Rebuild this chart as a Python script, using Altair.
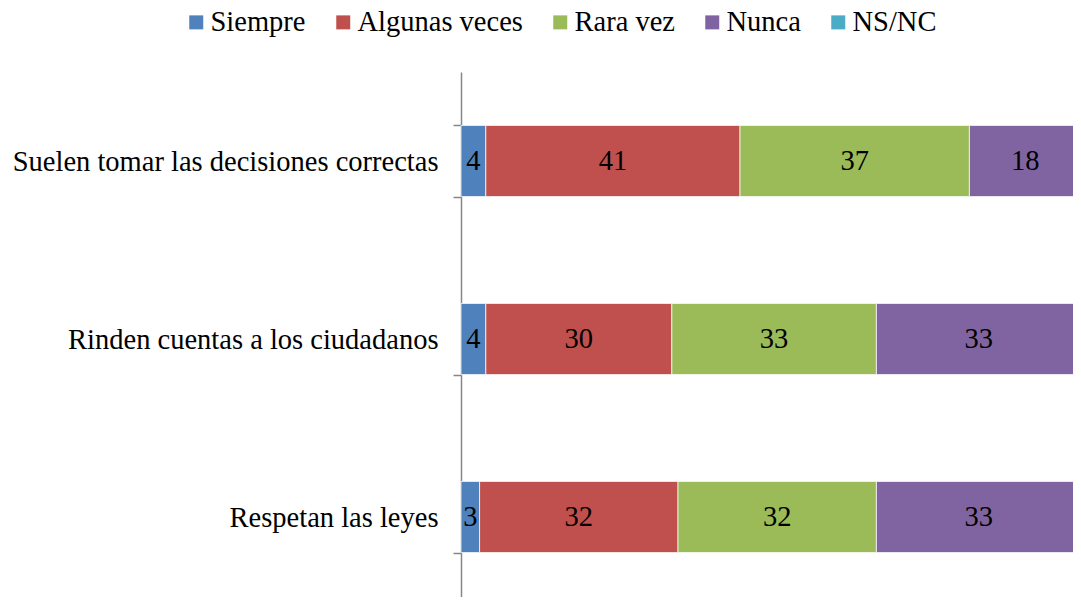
import altair as alt
import pandas as pd

items = ["Suelen tomar las decisiones correctas", "Rinden cuentas a los ciudadanos", "Respetan las leyes"]
answers = ["Siempre", "Algunas veces", "Rara vez", "Nunca", "NS/NC"]
colors = ["#4F81BD", "#C0504D", "#9BBB59", "#8064A2", "#4BACC6"]

siempre = [4, 4, 3]
algunas = [41, 30, 32]
rara = [37, 33, 32]
nunca = [18, 33, 33]
nsnc = [0, 0, 0]

series = [siempre, algunas, rara, nunca, nsnc]
rows = []
for ai, (ans, vals) in enumerate(zip(answers, series)):
    for item, v in zip(items, vals):
        rows.append({"item": item, "answer": ans, "ord": ai, "value": v})
df = pd.DataFrame(rows)

FONT = "Liberation Serif"
FS = 28.5

base = alt.Chart(df).transform_stack(
    stack="value", as_=["x0", "x1"], groupby=["item"], sort=[alt.SortField("ord", order="ascending")]
).transform_calculate(mid="(datum.x0 + datum.x1) / 2")

y_scale = alt.Scale(paddingInner=0.6, paddingOuter=0.3, range=[0, 534])
y_enc = alt.Y("item:N", sort=items, title=None, scale=y_scale,
              axis=alt.Axis(tickBand="extent", tickSize=8, labelPadding=15,
                            labelFont=FONT, labelFontSize=FS, labelColor="#000000",
                            labelFontWeight="normal", labelLimit=600,
                            domainColor="#878787", tickColor="#878787",
                            domainWidth=1.5, tickWidth=1.5))

x_scale = alt.Scale(domain=[0, 100], nice=False, zero=True, range=[0, 620])

bars = base.mark_bar(stroke="white", strokeWidth=0.75).encode(
    y=y_enc,
    x=alt.X("x0:Q", scale=x_scale, axis=None, title=None),
    x2="x1:Q",
    color=alt.Color("answer:N", sort=answers,
                    scale=alt.Scale(domain=answers, range=colors),
                    legend=alt.Legend(title=None, orient="none", direction="horizontal",
                                      legendX=-279, legendY=-64,
                                      symbolType="square", symbolSize=196,
                                      symbolStrokeWidth=0, symbolOpacity=1,
                                      labelFont=FONT, labelFontSize=FS, labelColor="#000000",
                                      labelOffset=0, columnPadding=23, labelLimit=400)),
)

texts = base.transform_filter("datum.value > 0").mark_text(
    font=FONT, fontSize=FS, color="#000000", baseline="middle", align="center"
).encode(
    y=alt.Y("item:N", sort=items, scale=y_scale),
    x=alt.X("mid:Q", scale=x_scale),
    text=alt.Text("value:Q"),
)

chart = alt.layer(bars, texts).properties(
    width=612, height=525,
    padding={"left": 453, "top": 64, "right": 0, "bottom": 0},
    autosize=alt.AutoSizeParams(type="none"),
).configure(background="white").configure_view(stroke=None)

chart.save("out.html", embed_options={"renderer": "svg", "actions": False})
